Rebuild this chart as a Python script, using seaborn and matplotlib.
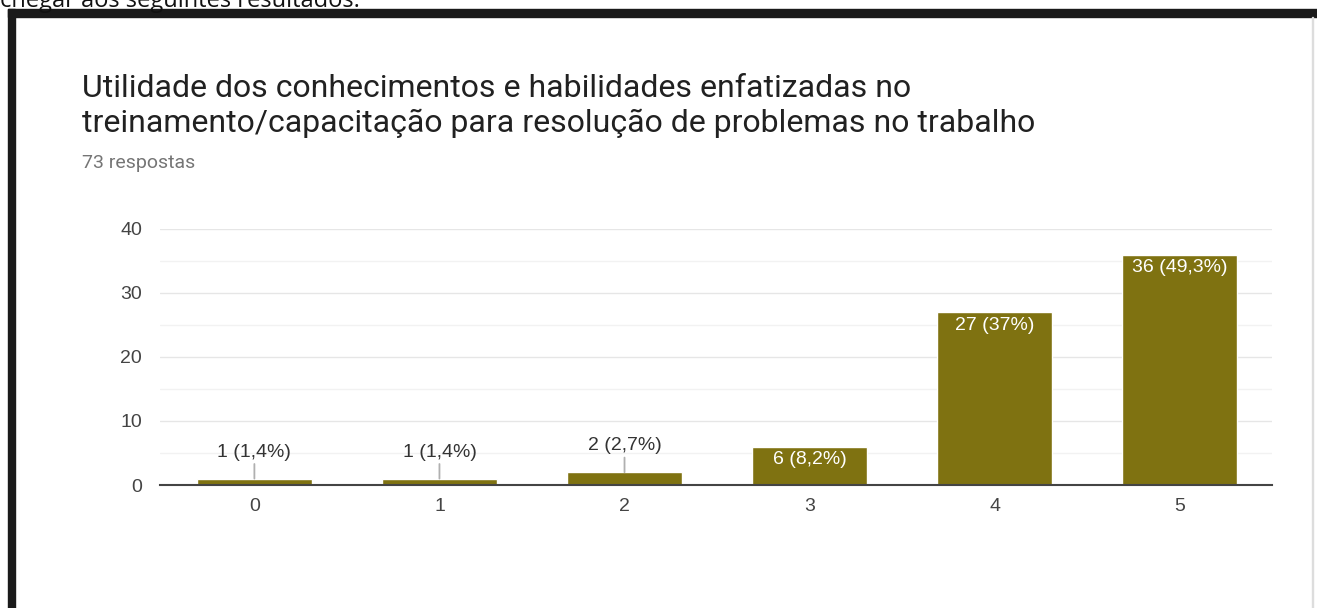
import matplotlib
matplotlib.use("Agg")
import matplotlib.pyplot as plt
import seaborn as sns
from matplotlib.patches import Rectangle

# data
categories = ["0", "1", "2", "3", "4", "5"]
counts = [1, 1, 2, 6, 27, 36]
percents = ["1,4%", "1,4%", "2,7%", "8,2%", "37%", "49,3%"]

title = ("Utilidade dos conhecimentos e habilidades enfatizadas no\n"
         "treinamento/capacitação para resolução de problemas no trabalho")
subtitle = "73 respostas"

bar_color = "#7f7211"

sns.set_style("white")
plt.rcParams["font.family"] = ["Liberation Sans", "DejaVu Sans"]

fig = plt.figure(figsize=(13.17, 6.08), dpi=100)
ax = fig.add_axes([0.1215, 0.2023, 0.8445, 0.4211])

sns.barplot(x=categories, y=counts, color=bar_color, saturation=1,
            width=0.62, ax=ax)

ax.set_xlim(-0.51, 5.5)
ax.set_ylim(0, 40)
ax.set_yticks([0, 10, 20, 30, 40])
ax.set_yticks([5, 15, 25, 35], minor=True)
ax.grid(axis="y", which="major", color="#e6e6e6", lw=1)
ax.grid(axis="y", which="minor", color="#f2f2f2", lw=1)
ax.set_axisbelow(True)
for side in ["left", "right", "top"]:
    ax.spines[side].set_visible(False)
ax.spines["bottom"].set_color("#444444")
ax.spines["bottom"].set_linewidth(1.5)
ax.tick_params(axis="both", length=0, which="both", labelsize=14,
               labelcolor="#444444")
ax.tick_params(axis="y", pad=13)
ax.tick_params(axis="x", pad=9)
ax.set_xlabel("")
ax.set_ylabel("")

# value labels: above small bars with a leader line, inside larger ones
for i, (c, p) in enumerate(zip(counts, percents)):
    label = f"{c} ({p})"
    if c < 5:
        ax.annotate(label, xy=(i, c), xytext=(0, 19), textcoords="offset points",
                    ha="center", va="center", fontsize=14, color="#333333",
                    arrowprops=dict(arrowstyle="-", color="#b0b0b0", lw=1.3,
                                    shrinkA=0, shrinkB=0))
    else:
        ax.annotate(label, xy=(i, c), xytext=(0, -9.5), textcoords="offset points",
                    ha="center", va="center", fontsize=14, color="white")

fig.text(82 / 1317, 1 - 106 / 608, title, fontsize=23, family="Roboto",
         color="#212121", va="center", ha="left", linespacing=1.25)
fig.text(82 / 1317, 1 - 163 / 608, subtitle, fontsize=14, family="Roboto",
         color="#757575", va="center", ha="left")

# screenshot framing: document text cut off at top, dark border
fig.text(0.0, 1 - 7 / 608, "chegar aos seguintes resultados:", fontsize=17,
         family="Open Sans", color="#111111", va="baseline", ha="left")
fig.patches.append(Rectangle((8 / 1317, 0), 7 / 1317, 1 - 9 / 608,
                             transform=fig.transFigure, color="#1a1a1a"))
fig.patches.append(Rectangle((8 / 1317, 1 - 17 / 608), 1 - 8 / 1317, 8 / 608,
                             transform=fig.transFigure, color="#1a1a1a"))
fig.patches.append(Rectangle((1312 / 1317, 0), 1 / 1317, 1 - 17 / 608,
                             transform=fig.transFigure, color="#dddddd"))

fig.savefig("out.png", dpi=100)
